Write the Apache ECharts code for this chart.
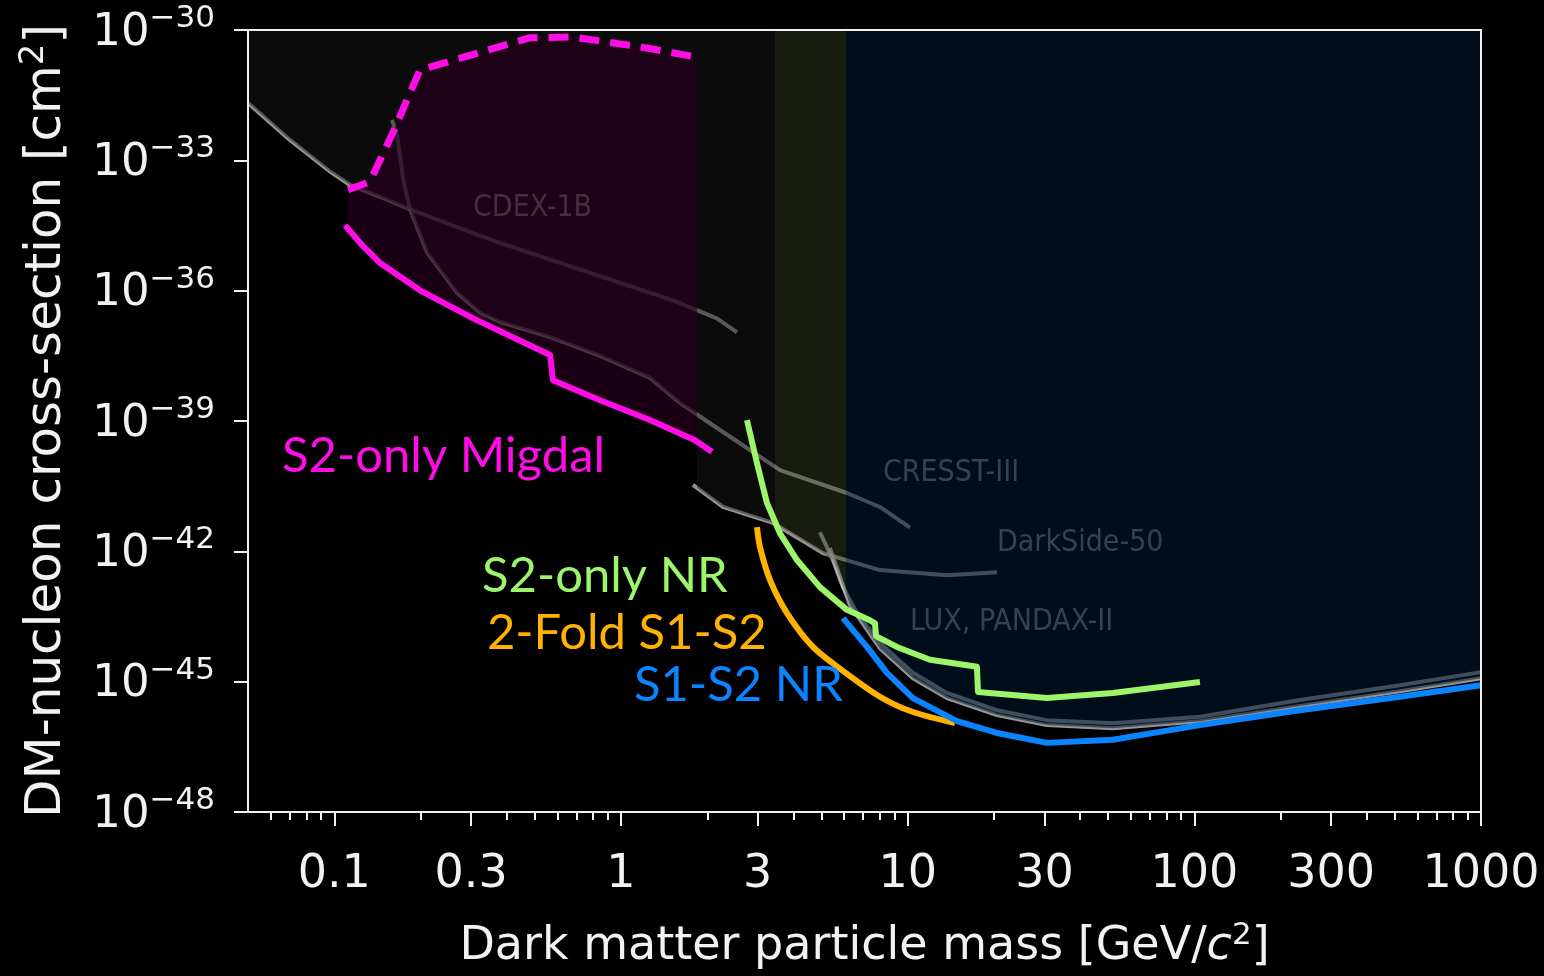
<!DOCTYPE html>
<html>
<head>
<meta charset="utf-8">
<title>Dark matter exclusion limits</title>
<script src="https://cdn.jsdelivr.net/npm/echarts@6/dist/echarts.min.js"></script>
<style>
  html, body { margin: 0; padding: 0; background: #000; }
  #chart { width: 1544px; height: 976px; }
</style>
</head>
<body>
<div id="chart"></div>
<script>
// ---- data: [mass (GeV/c^2), cross-section (cm^2)] ----

// this work
const migdalS2Only = [[0.109,3.2e-35],[0.125,1.12e-35],[0.144,4.4e-36],[0.199,1.02e-36],[0.305,2.3e-37],
  [0.566,3.3e-38],[0.579,8.7e-39],[0.845,3.0e-39],[1.262,1.05e-39],[1.812,3.6e-40],[2.077,1.95e-40]];
const migdalS2OnlyCeiling = [[0.1116,2.1e-34],[0.133,3.2e-34],[0.160,4.3e-33],[0.199,1.2e-31],[0.48,6.6e-31],
  [0.68,6.9e-31],[1.165,4.1e-31],[1.886,2.3e-31]];
const nrS2Only = [[2.751,1.05e-39],[2.981,1.07e-40],[3.23,1.3e-41],[3.586,2.6e-42],[4.111,6.3e-43],[4.944,1.5e-43],
  [6.141,4.5e-44],[7.388,2.6e-44],[7.691,2.2e-44],[7.753,1.12e-44],[9.177,6.3e-45],[11.96,3.2e-45],[17.45,2.2e-45],
  [17.59,5.8e-46],[30.61,4.2e-46],[52.0,5.5e-46],[104.6,9.8e-46]];
const twoFoldS1S2 = [[2.981,3.6e-42],[3.054,1.26e-42],[3.309,2.2e-43],[3.793,3.8e-44],[4.674,6.3e-45],[5.806,2.0e-45],
  [8.006,4.5e-46],[10.43,2.0e-46],[14.62,1.12e-46]];
const nrS1S2 = [[5.947,2.9e-44],[7.213,6.3e-45],[8.469,1.6e-45],[10.43,4.2e-46],[14.86,1.23e-46],[20.49,6.6e-47],
  [30.61,3.9e-47],[52.0,4.6e-47],[104.6,1.0e-46],[233.6,2.2e-46],[521.6,4.5e-46],[1000,8.3e-46]];

// Migdal-excluded region (between the S2-only limit and its upper reach)
const migdalRegionTop = [[0.1116,2.1e-34],[0.133,3.2e-34],[0.160,4.3e-33],[0.199,1.2e-31],[0.48,6.6e-31],
  [0.68,6.9e-31],[1.165,4.1e-31],[1.841,2.35e-31]];
const migdalRegionBottom = [[0.1116,2.7e-35],[0.125,1.12e-35],[0.144,4.4e-36],[0.199,1.02e-36],[0.305,2.3e-37],
  [0.566,3.3e-38],[0.579,8.7e-39],[0.845,3.0e-39],[1.262,1.05e-39],[1.841,3.4e-40]];

// other experiments
const cdex1b = [[0.05,2.1e-32],[0.070,2.95e-33],[0.097,5.4e-34],[0.1135,2.7e-34],[0.144,1.45e-34],[0.179,7.9e-35],
  [0.305,2.1e-35],[0.378,1.26e-35],[0.680,3.5e-36],[1.52,6.0e-37],[2.16,2.3e-37],[2.54,1.1e-37]];
const cresst3 = [[0.159,8.5e-33],[0.166,3.5e-33],[0.174,3.5e-34],[0.184,7.2e-35],[0.211,7.4e-36],[0.268,8.9e-37],
  [0.322,3.1e-37],[0.378,1.9e-37],[0.566,8.5e-38],[0.845,3.16e-38],[1.262,9.8e-39],[1.606,2.6e-39],[2.215,6.2e-40],
  [3.586,7.4e-41],[6.14,2.2e-41],[8.0,1.05e-41],[10.19,3.5e-42]];
const darkside50 = [[1.783,3.4e-41],[2.269,1.05e-41],[3.39,4.5e-42],[5.065,9.1e-43],[8.0,3.7e-43],[13.71,2.8e-43],
  [20.5,3.3e-43]];
const lux = [[4.944,2.75e-42],[5.488,6.3e-43],[5.947,1.5e-43],[6.656,3.8e-44],[8.0,7.8e-45],[10.43,1.6e-45],
  [13.71,5.5e-46],[20.5,2.2e-46],[30.6,1.3e-46],[52.0,1.1e-46],[104.6,1.55e-46],[233.6,3.8e-46],[521.6,8.3e-46],
  [1000,1.66e-45]];
const pandax2 = [[5.358,1.2e-42],[6.29,5.8e-44],[8.0,5.9e-45],[10.43,1.2e-45],[13.71,4.2e-46],[20.5,1.7e-46],
  [30.6,1.0e-46],[52.0,8.5e-47],[104.6,1.23e-46],[233.6,2.75e-46],[521.6,6.0e-46],[1000,1.2e-45]];

// lower edge of the previously excluded region, split into three shaded bands
const greyBandFloor = [[0.05,2.1e-32],[0.070,2.95e-33],[0.097,5.4e-34],[0.1135,2.7e-34],[0.144,1.45e-34],
  [0.179,7.9e-35],[0.184,7.2e-35],[0.211,7.4e-36],[0.268,8.9e-37],[0.322,3.1e-37],[0.378,1.9e-37],[0.566,8.5e-38],
  [0.845,3.16e-38],[1.262,9.8e-39],[1.606,2.6e-39],[1.841,1.45e-39],[1.841,2.9e-41],[2.269,1.05e-41],
  [3.39,4.5e-42],[3.445,4.3e-42]];
const oliveBandFloor = [[3.445,4.3e-42],[5.065,9.1e-43],[5.488,6.3e-43],[6.09,1.05e-43]];
const blueBandFloor = [[6.09,1.05e-43],[6.29,5.8e-44],[8.0,5.9e-45],[10.43,1.2e-45],[13.71,4.2e-46],[20.5,1.7e-46],
  [30.6,1.0e-46],[52.0,8.5e-47],[104.6,1.23e-46],[233.6,2.75e-46],[521.6,6.0e-46],[1000,1.2e-45]];

// axes
const massRange = [0.05, 1000];
const sigmaRange = [1e-48, 1e-30];
const massTicks = [0.1, 0.3, 1, 3, 10, 30, 100, 300, 1000];
const massMinorTicks = [0.06,0.07,0.08,0.09,0.2,0.4,0.5,0.6,0.7,0.8,0.9,2,4,5,6,7,8,9,
  20,40,50,60,70,80,90,200,400,500,600,700,800,900];
// cross-section ticks as powers of ten
const sigmaExponentRange = [-48, -30];
const sigmaExponentStep = 3;

// text annotations: label and anchor (left edge, vertical middle)
const curveNotes = [
  { key: 'migdal', text: 'S2-only Migdal', at: [0.0657, 1.55e-40] },
  { key: 'nrS2', text: 'S2-only NR', at: [0.3274, 2.7e-43] },
  { key: 'twoFold', text: '2-Fold S1-S2', at: [0.3408, 1.32e-44] },
  { key: 'nrS1S2', text: 'S1-S2 NR', at: [1.11, 8.3e-46] }
];
const experimentNotes = [
  { key: 'cdex', text: 'CDEX-1B', at: [0.3047, 7.9e-35] },
  { key: 'cresst', text: 'CRESST-III', at: [8.2, 6.3e-41] },
  { key: 'ds', text: 'DarkSide-50', at: [20.5, 1.55e-42] },
  { key: 'lux', text: 'LUX, PANDAX-II', at: [10.19, 2.35e-44] }
];

// ---- styling ----
const COLORS = {
  migdal: '#ff0de6',
  nrS2: '#9cf56b',
  twoFold: '#ffb300',
  nrS1S2: '#0a84ff',
  otherLine: 'rgba(205,205,205,0.72)',
  greyBand: 'rgba(23,23,23,0.48)',
  oliveBand: 'rgba(53,62,36,0.45)',
  blueBand: 'rgba(0,23,46,0.57)',
  migdalRegion: 'rgba(40,0,32,0.67)',
  axis: '#f2f2f2'
};
const noteColors = { cdex: '#43303f', cresst: '#36424d', ds: '#36424d', lux: '#36424d' };
const TICK_FONT = 'DejaVu Sans';
const NOTE_FONT = 'Lato, "Open Sans", sans-serif';
const EXP_FONT = '"DejaVu Sans Condensed", "DejaVu Sans", sans-serif';

function fmtMass(v) { return String(parseFloat(Number(v).toPrecision(6))); }
function fmtExponent(v) { return '{b|10}{s|\u2212' + Math.abs(Math.round(v)) + '}'; }

function lineSeries(name, data, color, width, z, extra) {
  return Object.assign({
    name, type: 'line', data, z, symbol: 'none', showSymbol: false, smooth: false,
    clip: true, silent: true, animation: false,
    lineStyle: { color, width, cap: 'butt', join: 'round' }
  }, extra || {});
}

function bandSeries(floor, fill, z) {
  return {
    type: 'custom', z, silent: true, animation: false, clip: true,
    data: [floor[0]],
    renderItem: function (params, api) {
      const pts = floor.map(p => api.coord(p));
      pts.push(api.coord([floor[floor.length - 1][0], sigmaRange[1]]));
      pts.push(api.coord([floor[0][0], sigmaRange[1]]));
      return { type: 'polygon', shape: { points: pts }, style: { fill: fill } };
    }
  };
}

function regionSeries(top, bottom, fill, z) {
  return {
    type: 'custom', z, silent: true, animation: false, clip: true,
    data: [top[0]],
    renderItem: function (params, api) {
      const pts = top.map(p => api.coord(p)).concat(bottom.slice().reverse().map(p => api.coord(p)));
      return { type: 'polygon', shape: { points: pts }, style: { fill: fill } };
    }
  };
}

function notesSeries(notes, colorOf, font, size, z) {
  return {
    type: 'custom', z, silent: true, animation: false, clip: false,
    data: notes.map(n => n.at),
    renderItem: function (params, api) {
      const n = notes[params.dataIndex];
      const p = api.coord([api.value(0), api.value(1)]);
      return {
        type: 'text', x: p[0], y: p[1],
        style: {
          text: n.text, fill: colorOf(n.key), fontFamily: font, fontSize: size,
          align: 'left', verticalAlign: 'middle', textAlign: 'left', textVerticalAlign: 'middle'
        }
      };
    }
  };
}

const chart = echarts.init(document.getElementById('chart'), null, { renderer: 'canvas' });

const axisLineStyle = { color: COLORS.axis, width: 2 };

chart.setOption({
  backgroundColor: '#000',
  animation: false,
  grid: { left: 248, right: 63, top: 30, bottom: 164, containLabel: false },
  xAxis: [
    {
      type: 'log', logBase: 10, min: massRange[0], max: massRange[1], position: 'bottom', z: 10,
      name: 'Dark matter particle mass [GeV/{i|c}{s|2}]', nameLocation: 'middle', nameGap: 108,
      nameTextStyle: {
        color: COLORS.axis, fontFamily: TICK_FONT, fontSize: 46,
        rich: {
          i: { fontFamily: TICK_FONT, fontSize: 46, fontStyle: 'italic', color: COLORS.axis },
          s: { fontFamily: TICK_FONT, fontSize: 31, color: COLORS.axis, padding: [0, 0, 24, 0] }
        }
      },
      axisLine: { show: true, lineStyle: axisLineStyle },
      axisTick: { show: true, inside: false, length: 14, lineStyle: axisLineStyle, customValues: massTicks },
      minorTick: { show: false },
      splitLine: { show: false },
      axisLabel: {
        show: true, color: COLORS.axis, fontFamily: TICK_FONT, fontSize: 46, margin: 40,
        customValues: massTicks, formatter: fmtMass
      }
    },
    {
      type: 'log', logBase: 10, min: massRange[0], max: massRange[1], position: 'bottom', z: 10,
      axisLine: { show: false },
      axisTick: { show: true, inside: false, length: 8, lineStyle: axisLineStyle, customValues: massMinorTicks },
      axisLabel: { show: false },
      splitLine: { show: false }
    },
    {
      type: 'log', logBase: 10, min: massRange[0], max: massRange[1], position: 'top', z: 10,
      axisLine: { show: true, lineStyle: axisLineStyle },
      axisTick: { show: false }, axisLabel: { show: false }, splitLine: { show: false }
    }
  ],
  yAxis: [
    {
      // data axis: logarithmic cross-section
      type: 'log', logBase: 10, min: sigmaRange[0], max: sigmaRange[1], position: 'left', z: 10,
      name: 'DM-nucleon cross-section [cm{s|2}]', nameLocation: 'middle', nameGap: 171, nameRotate: 90,
      nameTextStyle: {
        color: COLORS.axis, fontFamily: TICK_FONT, fontSize: 50,
        rich: { s: { fontFamily: TICK_FONT, fontSize: 34, color: COLORS.axis, padding: [0, 0, 26, 0] } }
      },
      axisLine: { show: true, lineStyle: axisLineStyle },
      axisTick: { show: false },
      minorTick: { show: false },
      splitLine: { show: false },
      axisLabel: { show: false }
    },
    {
      // decade exponents of the same range, carrying the tick marks and 10^n labels
      type: 'value', min: sigmaExponentRange[0], max: sigmaExponentRange[1], interval: sigmaExponentStep,
      position: 'left', offset: 0, z: 10,
      axisLine: { show: false },
      axisTick: { show: true, inside: false, length: 14, lineStyle: axisLineStyle },
      splitLine: { show: false },
      axisLabel: {
        show: true, margin: 33, formatter: fmtExponent,
        rich: {
          b: { color: COLORS.axis, fontFamily: TICK_FONT, fontSize: 45, padding: [6, 0, 0, 0] },
          s: { color: COLORS.axis, fontFamily: TICK_FONT, fontSize: 31, padding: [0, 0, 22, 0] }
        }
      }
    },
    {
      type: 'log', logBase: 10, min: sigmaRange[0], max: sigmaRange[1], position: 'right', z: 10,
      axisLine: { show: true, lineStyle: axisLineStyle },
      axisTick: { show: false }, axisLabel: { show: false }, splitLine: { show: false }
    }
  ],
  series: [
    // earlier limits
    lineSeries('CDEX-1B', cdex1b, COLORS.otherLine, 4, 2),
    lineSeries('CRESST-III', cresst3, COLORS.otherLine, 4, 2),
    lineSeries('DarkSide-50', darkside50, COLORS.otherLine, 4, 2),
    lineSeries('LUX', lux, COLORS.otherLine, 4, 2),
    lineSeries('PANDAX-II', pandax2, COLORS.otherLine, 4, 2),
    // shaded excluded regions
    bandSeries(greyBandFloor, COLORS.greyBand, 3),
    bandSeries(oliveBandFloor, COLORS.oliveBand, 3),
    bandSeries(blueBandFloor, COLORS.blueBand, 3),
    regionSeries(migdalRegionTop, migdalRegionBottom, COLORS.migdalRegion, 4),
    notesSeries(experimentNotes, k => noteColors[k], EXP_FONT, 30, 5),
    // this work
    lineSeries('S2-only Migdal', migdalS2Only, COLORS.migdal, 6, 6),
    lineSeries('S2-only Migdal (upper)', migdalS2OnlyCeiling, COLORS.migdal, 7, 6,
      { lineStyle: { color: COLORS.migdal, width: 7, type: [20, 11], cap: 'butt', join: 'miter' } }),
    lineSeries('S2-only NR', nrS2Only, COLORS.nrS2, 6, 6),
    lineSeries('2-Fold S1-S2', twoFoldS1S2, COLORS.twoFold, 6, 6, { smooth: 0.3 }),
    lineSeries('S1-S2 NR', nrS1S2, COLORS.nrS1S2, 6, 6),
    notesSeries(curveNotes, k => COLORS[k], NOTE_FONT, 49, 7)
  ]
});
</script>
</body>
</html>
